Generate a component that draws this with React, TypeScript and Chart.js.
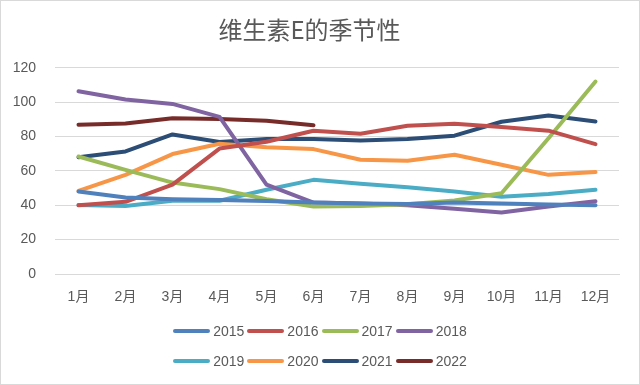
import React, { useEffect, useRef } from "react";
import { Chart, registerables } from "chart.js";

Chart.register(...registerables);

const months = ["1月", "2月", "3月", "4月", "5月", "6月", "7月", "8月", "9月", "10月", "11月", "12月"];
const years = ["2015", "2016", "2017", "2018", "2019", "2020", "2021", "2022"];
const colors = ["#4F81BD", "#C0504D", "#9BBB59", "#8064A2", "#4BACC6", "#F79646", "#2C4D75", "#772C2A"];

const s2015 = [48, 44.5, 43.5, 43, 42.5, 41.6, 41, 40.8, 41.6, 41, 40.5, 40];
const s2016 = [40, 42, 52, 73, 77, 83.4, 81.6, 86.3, 87.5, 85.5, 83.4, 75.6];
const s2017 = [68.4, 60.6, 53.2, 49.4, 43.5, 39.3, 39.6, 40.6, 42.8, 47, 79, 112];
const s2018 = [106.3, 101.5, 99, 91.4, 52, 41.6, 41, 40, 38, 35.8, 39.3, 42.4];
const s2019 = [40.2, 39.6, 42.6, 42.6, 49, 54.8, 52.5, 50.5, 48, 45, 46.6, 49];
const s2020 = [48.4, 57.7, 69.8, 75.8, 73.8, 72.7, 66.5, 65.9, 69.4, 63.6, 57.7, 59.3];
const s2021 = [68, 71.3, 81.2, 76.8, 78.5, 78.5, 77.7, 78.5, 80.5, 88.6, 92.3, 88.8];
const s2022 = [86.9, 87.6, 90.6, 90.2, 89.2, 86.5, null, null, null, null, null, null];

const seriesValues = [s2015, s2016, s2017, s2018, s2019, s2020, s2021, s2022];

const yTicks = [0, 20, 40, 60, 80, 100, 120];

const FONT = "'Liberation Sans', 'Noto Sans CJK SC', sans-serif";
const TEXT = "#595959";

export default function App() {
  const ref = useRef<HTMLCanvasElement | null>(null);

  useEffect(() => {
    if (!ref.current) return;
    const chart = new Chart(ref.current, {
      type: "line",
      data: {
        labels: months,
        datasets: years.map((y, i) => ({
          label: y,
          data: seriesValues[i],
          borderColor: colors[i],
          backgroundColor: colors[i],
          borderWidth: 4,
          pointRadius: 0,
          pointHoverRadius: 0,
          tension: 0,
          fill: false,
          spanGaps: false,
          borderCapStyle: "round",
          borderJoinStyle: "round",
        })),
      },
      options: {
        responsive: false,
        animation: false,
        layout: { padding: { left: 0, right: 21, top: 0, bottom: 0 } },
        plugins: {
          legend: { display: false },
          tooltip: { enabled: false },
          title: {
            display: true,
            text: "维生素E的季节性",
            color: TEXT,
            font: { family: "'Noto Sans CJK SC', sans-serif", size: 24, weight: "normal" },
            padding: { top: 15, bottom: 24 },
          },
        },
        scales: {
          x: {
            offset: true,
            grid: { display: false, drawTicks: false },
            border: { display: true, color: "#D9D9D9", width: 1 },
            ticks: {
              color: TEXT,
              font: { family: FONT, size: 14 },
              padding: 15,
              maxRotation: 0,
              autoSkip: false,
            },
            afterFit: (s: any) => {
              s.height = 111;
            },
          },
          y: {
            min: 0,
            max: 120,
            afterBuildTicks: (s: any) => {
              s.ticks = yTicks.map((v) => ({ value: v }));
            },
            grid: { color: "#D9D9D9", lineWidth: 1, drawTicks: false },
            border: { display: false },
            ticks: {
              color: TEXT,
              font: { family: FONT, size: 14 },
              padding: 19,
            },
            afterFit: (s: any) => {
              s.width = 55;
            },
          },
        },
      },
    });
    return () => chart.destroy();
  }, []);

  const row = (start: number, top: number) => (
    <div
      style={{
        position: "absolute",
        left: 0,
        width: 640,
        top,
        height: 18,
        display: "flex",
        justifyContent: "center",
        alignItems: "center",
      }}
    >
      {years.slice(start, start + 4).map((y, k) => {
        const i = start + k;
        return (
          <div key={y} style={{ display: "flex", alignItems: "center", marginRight: k < 3 ? 3 : 0 }}>
            <div style={{ width: 37, height: 4, borderRadius: 2, background: colors[i], marginRight: 3 }} />
            <span style={{ fontFamily: FONT, fontSize: 14, color: TEXT, lineHeight: "18px" }}>{y}</span>
          </div>
        );
      })}
    </div>
  );

  return (
    <div style={{ position: "fixed", left: 0, top: 0, width: 640, height: 385, background: "#fff" }}>
      <canvas ref={ref} width={640} height={385} style={{ position: "absolute", left: 0, top: 0 }} />
      {row(0, 322)}
      {row(4, 352)}
      <div
        style={{
          position: "absolute",
          left: 0,
          top: 0,
          width: 640,
          height: 385,
          boxSizing: "border-box",
          border: "1px solid #D9D9D9",
          pointerEvents: "none",
        }}
      />
    </div>
  );
}
